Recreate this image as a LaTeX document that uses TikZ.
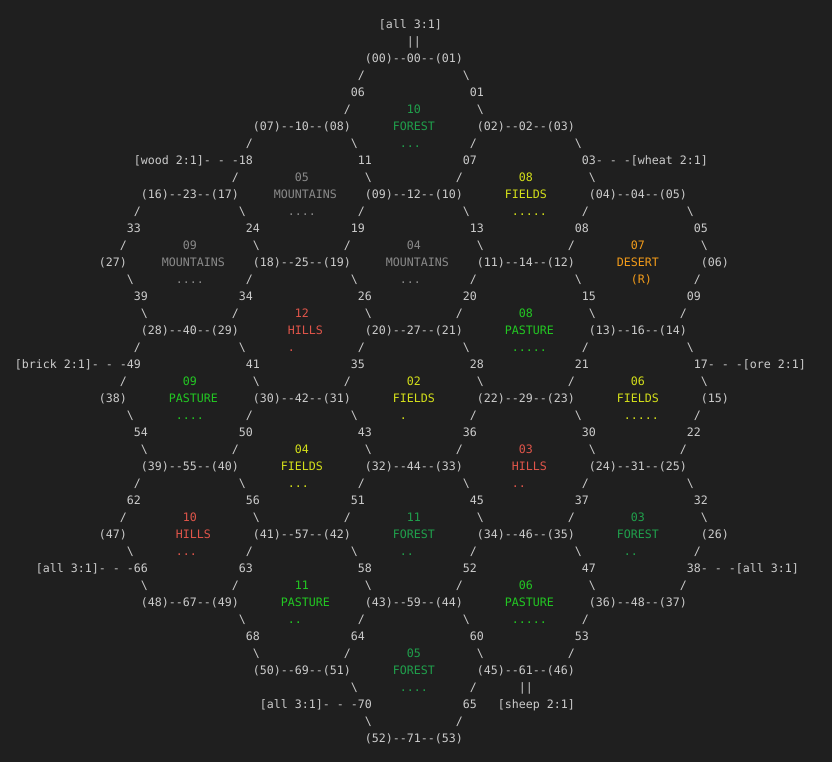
\documentclass[tikz,border=0pt]{standalone}
\usepackage{fontspec}
\newfontfamily\mono{DejaVu Sans Mono}
\definecolor{bg}{HTML}{1F1F1F}
\definecolor{fg}{HTML}{CCCCCC}
\definecolor{forest}{HTML}{1FA04C}
\definecolor{pasture}{HTML}{23C823}
\definecolor{fields}{HTML}{D4E01A}
\definecolor{mount}{HTML}{8A8A8A}
\definecolor{hills}{HTML}{E0554A}
\definecolor{desert}{HTML}{F39C1A}
\newcommand\dd{-\kern0pt-}
\newcommand\pips[1]{\ifcase#1\or.\or..\or...\or....\or.....\fi}
\newcommand\tk[4][fg]{%
  \pgfmathtruncatemacro\tkc{#2}\pgfmathtruncatemacro\tkr{#3}%
  \node[tok,text=#1] (t\tkc-\tkr) at ({14.5+7*\tkc},{-28.7-17*(\tkr-1)}) {#4};}
\tikzset{tok/.style={anchor=base west,inner sep=0pt,font=\mono\fontsize{8.72pt}{10pt}\selectfont}}
\begin{document}
\begin{tikzpicture}[x=0.75pt,y=0.75pt]
\fill[bg] (0,0) rectangle (832,-762);
\path[use as bounding box] (0,0) rectangle (832,-762);
% vertex pairs with horizontal edges
\foreach \c/\r/\a/\n/\b in {50/3/00/00/01, 34/7/07/10/08, 66/7/02/02/03,
  18/11/16/23/17, 50/11/09/12/10, 82/11/04/04/05,
  34/15/18/25/19, 66/15/11/14/12,
  18/19/28/40/29, 50/19/20/27/21, 82/19/13/16/14,
  34/23/30/42/31, 66/23/22/29/23,
  18/27/39/55/40, 50/27/32/44/33, 82/27/24/31/25,
  34/31/41/57/42, 66/31/34/46/35,
  18/35/48/67/49, 50/35/43/59/44, 82/35/36/48/37,
  34/39/50/69/51, 66/39/45/61/46, 50/43/52/71/53}
  {\tk{\c}{\r}{(\a)\dd\n\dd(\b)}}
% single vertices
\foreach \c/\r/\a in {12/15/27, 98/15/06, 12/23/38, 98/23/15, 12/31/47, 98/31/26}
  {\tk{\c}{\r}{(\a)}}
% down-left diagonals
\foreach \v/\R/\n in {50/3/06, 34/7/18, 66/7/07, 18/11/33, 50/11/19, 82/11/08,
  34/15/34, 66/15/20, 98/15/09, 18/19/49, 50/19/35, 82/19/21,
  34/23/50, 66/23/36, 98/23/22, 18/27/62, 50/27/51, 82/27/37,
  34/31/63, 66/31/52, 98/31/38, 50/35/64, 82/35/53, 66/39/65}
  {\tk{\v-1}{\R+1}{/}\tk{\v-2}{\R+2}{\n}\tk{\v-3}{\R+3}{/}}
% down-right diagonals
\foreach \e/\R/\n in {63/3/01, 47/7/11, 79/7/03, 31/11/24, 63/11/13, 95/11/05,
  15/15/39, 47/15/26, 79/15/15, 31/19/41, 63/19/28, 95/19/17,
  15/23/54, 47/23/43, 79/23/30, 31/27/56, 63/27/45, 95/27/32,
  15/31/66, 47/31/58, 79/31/47, 31/35/68, 63/35/60, 47/39/70}
  {\tk{\e+1}{\R+1}{\textbackslash}\tk{\e+2}{\R+2}{\n}\tk{\e+3}{\R+3}{\textbackslash}}
% tiles
\foreach \T/\s/\n/\nm/\off/\pp/\cl in {7/48/10/FOREST/6/3/forest,
  11/32/05/MOUNTAINS/5/4/mount, 11/64/08/FIELDS/6/5/fields,
  15/16/09/MOUNTAINS/5/4/mount, 15/48/04/MOUNTAINS/5/3/mount,
  19/32/12/HILLS/7/1/hills, 19/64/08/PASTURE/6/5/pasture,
  23/16/09/PASTURE/6/4/pasture, 23/48/02/FIELDS/6/1/fields, 23/80/06/FIELDS/6/5/fields,
  27/32/04/FIELDS/6/3/fields, 27/64/03/HILLS/7/2/hills,
  31/16/10/HILLS/7/3/hills, 31/48/11/FOREST/6/2/forest, 31/80/03/FOREST/6/2/forest,
  35/32/11/PASTURE/6/2/pasture, 35/64/06/PASTURE/6/5/pasture,
  39/48/05/FOREST/6/4/forest}
  {\tk[\cl]{\s+8}{\T-1}{\n}\tk[\cl]{\s+\off}{\T}{\nm}\tk[\cl]{\s+7}{\T+1}{\pips{\pp}}}
\tk[desert]{88}{14}{07}
\tk[desert]{86}{15}{DESERT}
\tk[desert]{88}{16}{(R)}
% ports
\tk{52}{1}{[all 3:1]}
\tk{56}{2}{||}
\tk{17}{9}{[wood 2:1]- - -}
\tk{83}{9}{- - -[wheat 2:1]}
\tk{0}{21}{[brick 2:1]- - -}
\tk{99}{21}{- - -[ore 2:1]}
\tk{3}{33}{[all 3:1]- - -}
\tk{98}{33}{- - -[all 3:1]}
\tk{35}{41}{[all 3:1]- - -}
\tk{72}{40}{||}
\tk{69}{41}{[sheep 2:1]}
\end{tikzpicture}
\end{document}
